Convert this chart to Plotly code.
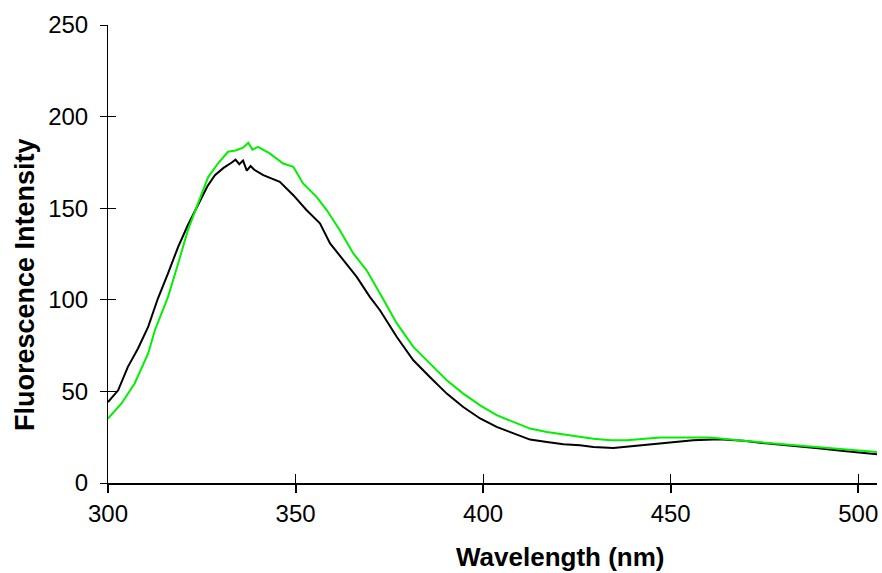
import plotly.graph_objects as go

# Black spectrum
wl_black = [300, 302.7, 305.3, 308, 310.7, 313.3, 316, 318.7, 321.3, 324, 326.5, 328.5, 330.8,
            332.9, 334, 335, 336, 337, 338, 339, 341.4, 345.8, 349.4, 352.9, 356.5, 359.2,
            362.7, 366.3, 369.8, 372.5, 377, 381.4, 385.8, 390.3, 394.7, 399.2, 403.6, 408,
            412.5, 417, 421.4, 425.8, 429.4, 434.7, 442.7, 450, 456, 463, 469.4, 476, 482.8,
            490, 496.1, 501, 505]
int_black = [44.2, 50.6, 63.4, 73.4, 85.2, 100.7, 114.4, 128.9, 140.8, 151.7, 162, 168, 172,
             174.8, 176.5, 174, 176, 170.5, 173, 171, 168, 164.4, 157.1, 149, 141.7, 130.8,
             121.6, 112.5, 101.6, 94.3, 79.7, 67, 57.9, 48.8, 41.5, 35.2, 30.6, 27,
             23.7, 22.4, 21.1, 20.6, 19.7, 19.1, 20.6, 22, 23.3, 23.9, 23, 21.5, 20,
             18.8, 17.5, 16.5, 15.7]

# Green spectrum
wl_green = [300, 303.6, 307.1, 310.7, 312.5, 316, 318.7, 321.3, 324, 326.7, 329.3, 332, 334,
            336, 337.4, 338.5, 340, 343.1, 346.7, 349.4, 352, 355.6, 358.3, 361.8, 365.4,
            368.9, 372.5, 377, 381.4, 385.8, 390.3, 394.7, 399.2, 403.6, 408, 412.5, 417,
            421.4, 425.8, 429.4, 434, 438.3, 447.2, 460.5, 469.4, 476, 482.8, 490, 496.1, 505]
int_green = [35.2, 43.4, 54.3, 70.7, 83.4, 101.6, 119.8, 138, 152.6, 167, 174.4, 180.8, 181.5,
             183, 185.7, 182, 183.5, 179.9, 174.4, 172.6, 163.5, 156.2, 149, 138, 125.3,
             116.2, 103.5, 87.1, 74.3, 65.2, 56.1, 48.8, 42.4, 37, 33.3, 29.7, 27.9,
             26.6, 25.5, 24.2, 23.3, 23.3, 24.8, 24.8, 23, 21.8, 20.6, 19.3, 18.2, 16.9]

x_ticks = [300, 350, 400, 450, 500]
y_ticks = [0, 50, 100, 150, 200, 250]
x_title = "Wavelength (nm)"
y_title = "Fluorescence Intensity"

FONT = "Arial, 'Liberation Sans', sans-serif"

W, H = 882, 573
ML, MR, MT, MB = 108, 5, 25, 90

fig = go.Figure()
fig.add_trace(go.Scatter(x=wl_black, y=int_black, mode="lines",
                         line=dict(color="#000000", width=2), showlegend=False))
fig.add_trace(go.Scatter(x=wl_green, y=int_green, mode="lines",
                         line=dict(color="#00F000", width=2), showlegend=False))

pw = W - ML - MR
ph = H - MT - MB

fig.update_layout(
    width=W, height=H,
    margin=dict(l=ML, r=MR, t=MT, b=MB, autoexpand=False),
    plot_bgcolor="white", paper_bgcolor="white",
    font=dict(family=FONT, size=24, color="black"),
    xaxis=dict(range=[300, 505], tickvals=x_ticks, showgrid=False, zeroline=False,
               showline=True, linecolor="black", linewidth=2,
               ticks="outside", ticklen=8, tickwidth=2, tickcolor="black",
               ticklabelstandoff=0, tickfont=dict(size=24)),
    yaxis=dict(range=[0, 250], tickvals=y_ticks, showgrid=False, zeroline=False,
               showline=True, linecolor="black", linewidth=1,
               ticks="outside", ticklen=7, tickwidth=1, tickcolor="black",
               ticklabelstandoff=7, tickfont=dict(size=24)),
    xaxis2=dict(range=[300, 505], overlaying="x", anchor="y", side="bottom",
                tickvals=x_ticks, showticklabels=False, showgrid=False, zeroline=False,
                showline=False, ticks="inside", ticklen=9, tickwidth=1, tickcolor="black"),
    yaxis2=dict(range=[0, 250], overlaying="y", anchor="x", side="left",
                tickvals=y_ticks, showticklabels=False, showgrid=False, zeroline=False,
                showline=False, ticks="inside", ticklen=8, tickwidth=1, tickcolor="black"),
    annotations=[
        dict(text=f"<b>{x_title}</b>", xref="paper", yref="paper",
             x=(560 - ML) / pw, y=-(557 - (H - MB)) / ph,
             showarrow=False, font=dict(size=26, family=FONT),
             xanchor="center", yanchor="middle"),
        dict(text=f"<b>{y_title}</b>", xref="paper", yref="paper",
             x=-(ML - 25) / pw, y=((H - MB) - 285) / ph,
             showarrow=False, textangle=-90, font=dict(size=27, family=FONT),
             xanchor="center", yanchor="middle"),
    ],
)
# invisible trace to make the overlay axes render
fig.add_trace(go.Scatter(x=[None], y=[None], xaxis="x2", yaxis="y2",
                         showlegend=False, hoverinfo="skip"))

fig.write_html("out.html", config={"displayModeBar": False},
               post_script="document.body.style.margin='0px';")
